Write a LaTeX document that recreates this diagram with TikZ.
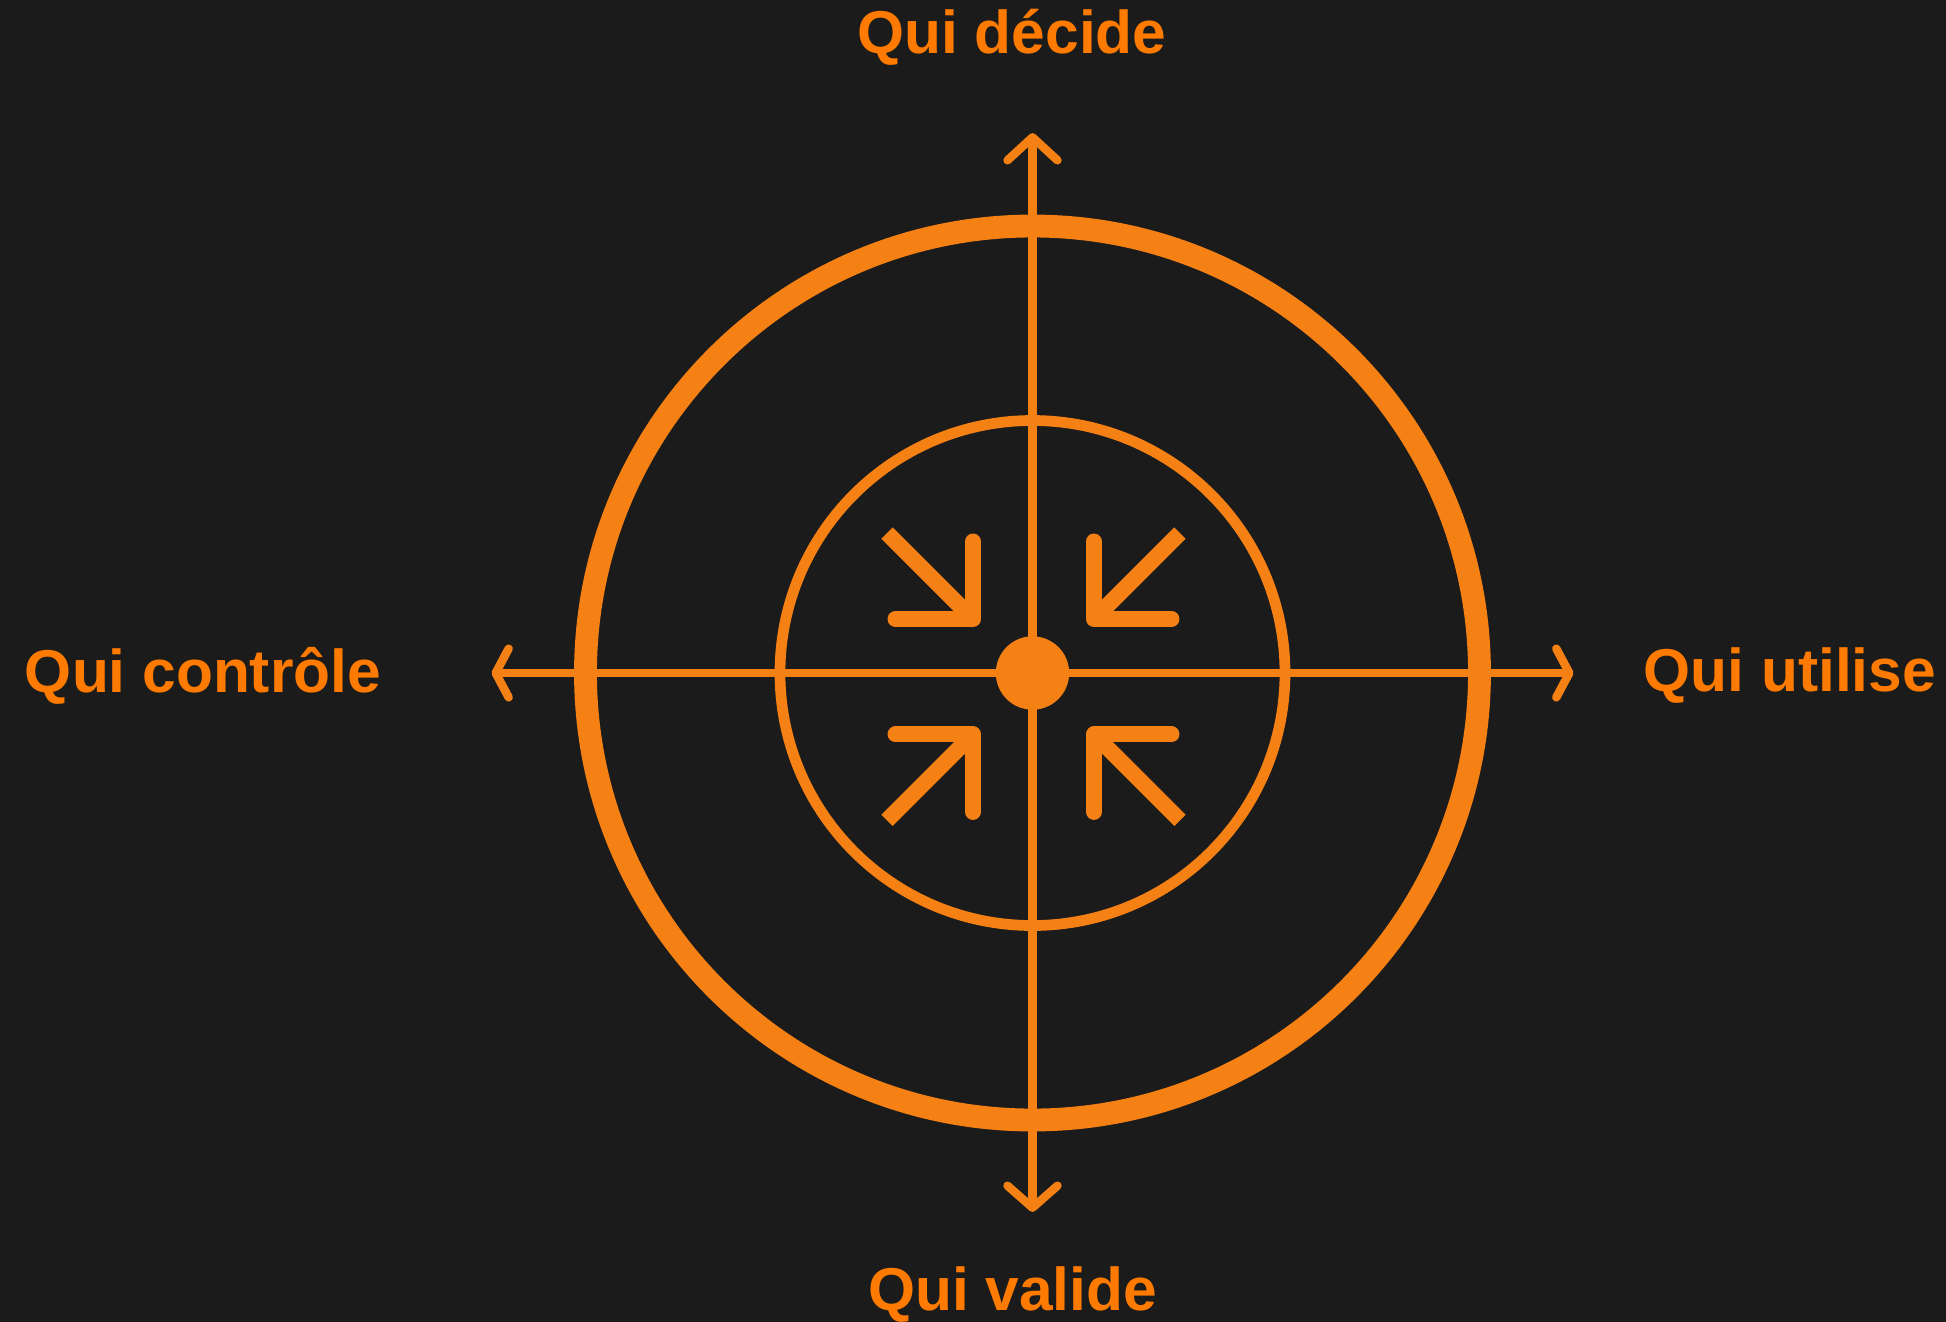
\documentclass[tikz,border=0pt]{standalone}
\usepackage{fontspec}
\setmainfont{Liberation Sans}
\usetikzlibrary{calc}
\definecolor{ink}{HTML}{1B1B1B}
\definecolor{flame}{HTML}{F58014}
\definecolor{flametext}{HTML}{FF7A00}

\begin{document}
\begin{tikzpicture}[
    lbl/.style={flametext, font=\fontsize{17.2}{20}\selectfont\bfseries, inner sep=0pt},
    axis/.style={flame, line width=2.4pt},
    chev/.style={flame, line width=2.4pt, line cap=round, line join=round},
    pull/.style={flame, line width=4.55pt, line cap=round, line join=round}]
    % background
    \useasboundingbox (-10.325,-6.48) rectangle (9.135,6.73);
    \fill[ink] (-10.5,-6.6) rectangle (9.3,6.9);
    % rings
    \draw[flame, line width=6.5pt] (0,0) circle (4.47);
    \draw[flame, line width=3.05pt] (0,0) circle (2.525);
    % axes
    \coordinate (N) at (0,5.357);
    \coordinate (S) at (0,-5.347);
    \coordinate (W) at (-5.368,0);
    \coordinate (E) at (5.368,0);
    \draw[axis] (S) -- (N);
    \draw[axis] (W) -- (E);
    % open heads
    \draw[chev] ($(N)+(-0.25,-0.23)$) -- (N) -- ++(0.25,-0.23);
    \draw[chev] ($(S)+(-0.25,0.22)$) -- (S) -- ++(0.25,0.22);
    \draw[chev] ($(W)+(0.13,0.244)$) -- (W) -- ++(0.13,-0.244);
    \draw[chev] ($(E)+(-0.13,0.244)$) -- (E) -- ++(-0.13,-0.244);
    % hub
    \fill[flame] (0,0) circle (0.367);
    % inward arrows
    \coordinate (I) at (0.01,-0.037);
    \foreach \sx/\sy in {-1/1, 1/1, -1/-1, 1/-1}{
      \coordinate (c) at ($(I)+(\sx*0.605,\sy*0.577)$);
      \draw[pull] ($(c)+(0,\sy*0.775)$) -- (c) -- ++(\sx*0.775,0);
      \draw[flame, line width=4.55pt] (c) -- ++(\sx*0.86,\sy*0.86);
    }
    % labels
    \node[lbl, anchor=base] (decide) at (-0.205,6.2) {Qui décide};
    \node[lbl, anchor=base] (valide) at (-0.2,-6.37) {Qui valide};
    \node[lbl, anchor=base east] (controle) at (-6.508,-0.197) {Qui contrôle};
    \node[lbl, anchor=base west] (utilise) at (6.105,-0.187) {Qui utilise};
\end{tikzpicture}
\end{document}
